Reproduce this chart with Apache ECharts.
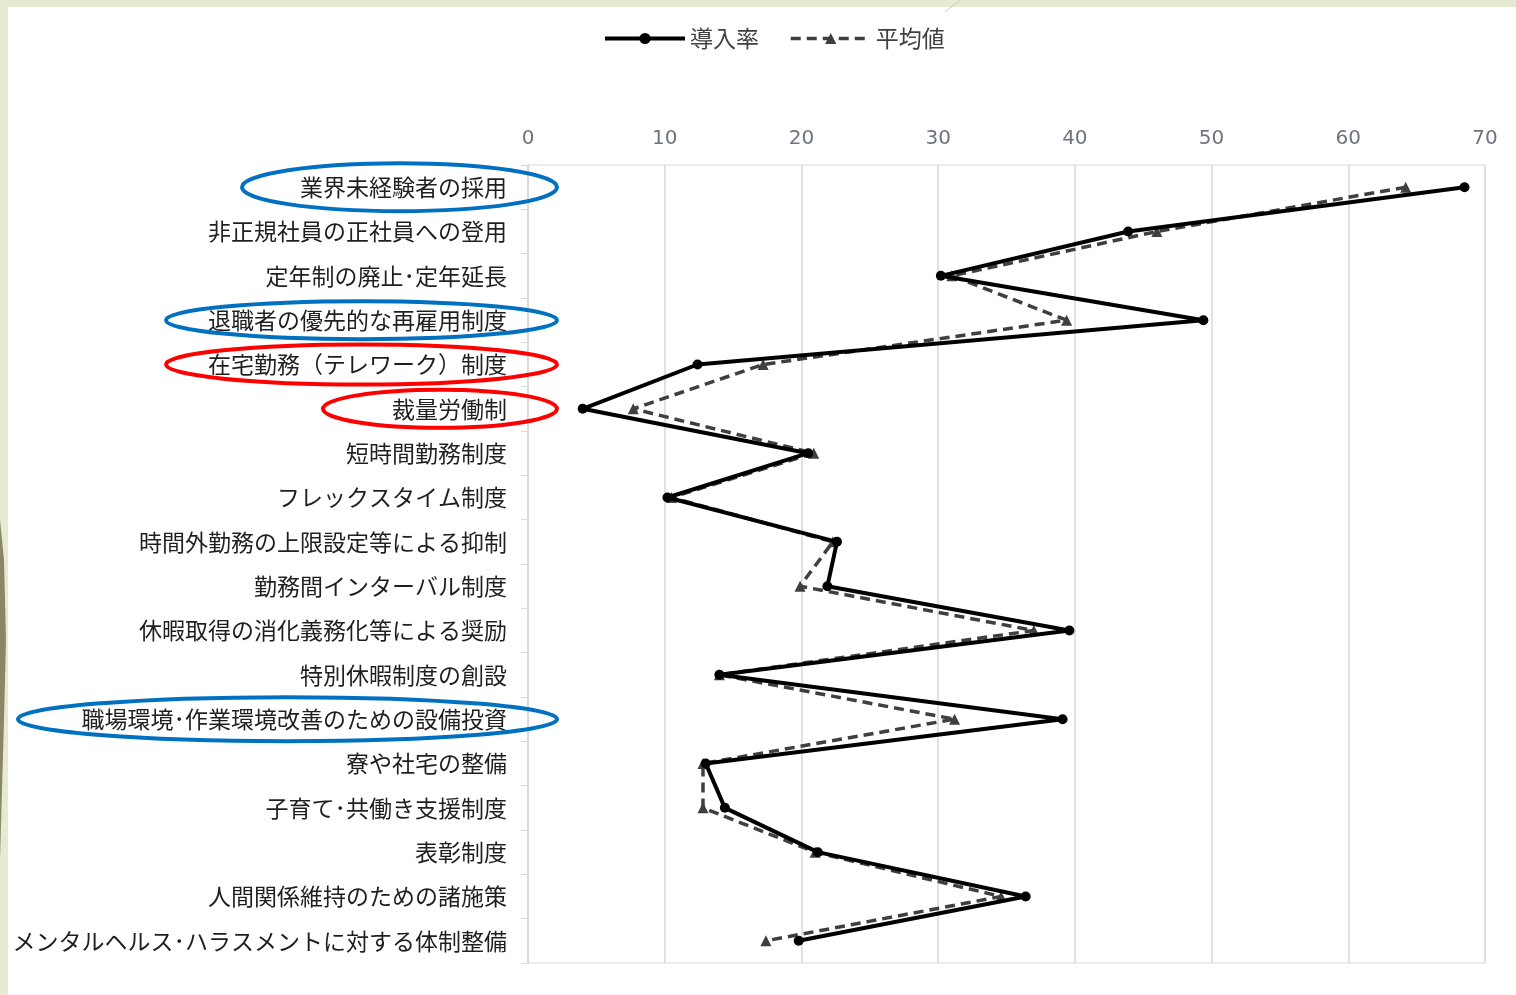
<!DOCTYPE html>
<html>
<head>
<meta charset="utf-8">
<title>導入率と平均値</title>
<script src="https://cdn.jsdelivr.net/npm/echarts@6/dist/echarts.min.js"></script>
<style>
  html, body { margin: 0; padding: 0; background: #e6ead2; }
  #chart { width: 1516px; height: 995px; }
</style>
</head>
<body>
<div id="chart"></div>
<script>
// Measures, top to bottom
const categories = [
  '業界未経験者の採用',
  '非正規社員の正社員への登用',
  '定年制の廃止･定年延長',
  '退職者の優先的な再雇用制度',
  '在宅勤務（テレワーク）制度',
  '裁量労働制',
  '短時間勤務制度',
  'フレックスタイム制度',
  '時間外勤務の上限設定等による抑制',
  '勤務間インターバル制度',
  '休暇取得の消化義務化等による奨励',
  '特別休暇制度の創設',
  '職場環境･作業環境改善のための設備投資',
  '寮や社宅の整備',
  '子育て･共働き支援制度',
  '表彰制度',
  '人間関係維持のための諸施策',
  'メンタルヘルス･ハラスメントに対する体制整備'
];

// 導入率 (%)
const adoptionRate = [68.5, 43.9, 30.2, 49.4, 12.4, 4.0, 20.5, 10.2, 22.6, 21.9, 39.6, 14.0, 39.1, 13.0, 14.4, 21.2, 36.4, 19.8];
// 平均値 (%)
const averageRate = [64.2, 46.0, 31.0, 39.4, 17.2, 7.7, 20.9, 10.5, 22.3, 19.9, 37.0, 14.0, 31.2, 12.8, 12.8, 21.0, 34.6, 17.4];

// Value axis ticks
const axisMin = 0;
const axisMax = 70;
const axisStep = 10;

// Highlighted measures: category, ellipse left/right edge, colour
const highlights = [
  { name: '業界未経験者の採用', left: 242, right: 557, ry: 24, color: '#0070c0' },
  { name: '退職者の優先的な再雇用制度', left: 166, right: 557, ry: 19, color: '#0070c0' },
  { name: '在宅勤務（テレワーク）制度', left: 166, right: 557, ry: 20, color: '#ff0000' },
  { name: '裁量労働制', left: 323, right: 557, ry: 19, color: '#ff0000' },
  { name: '職場環境･作業環境改善のための設備投資', left: 18, right: 557, ry: 22, color: '#0070c0' }
];

const chart = echarts.init(document.getElementById('chart'), null, { renderer: 'canvas' });

const frameGraphics = [
  { type: 'rect', z: -10, silent: true, shape: { x: 8, y: 7, width: 1508, height: 988 }, style: { fill: '#ffffff' } },
  { type: 'line', z: -9, silent: true, shape: { x1: 945, y1: 12, x2: 960, y2: 0 }, style: { stroke: '#c9ccbd', lineWidth: 1 } },
  { type: 'polygon', z: -9, silent: true,
    shape: { points: [[0, 520], [4, 560], [6, 640], [4, 720], [2, 790], [0, 860]] },
    style: { fill: '#8a8666' } }
];

chart.setOption({
  animation: false,
  backgroundColor: 'transparent',
  textStyle: { fontFamily: '"Noto Sans CJK JP", "Noto Sans", sans-serif' },
  legend: {
    top: 22,
    left: 598,
    itemWidth: 80,
    itemHeight: 14,
    itemGap: 30,
    data: [
      { name: '導入率', lineStyle: { width: 4, color: '#000000' } },
      { name: '平均値', lineStyle: { width: 3.5, color: '#3f3f3f', type: [10, 6] } }
    ],
    textStyle: { fontSize: 23, color: '#404040', fontFamily: '"Noto Sans CJK JP", sans-serif' }
  },
  grid: {
    left: 528,
    right: 31,
    top: 165,
    bottom: 32,
    show: true,
    borderColor: '#d9d9d9',
    borderWidth: 1
  },
  xAxis: {
    type: 'value',
    position: 'top',
    min: axisMin,
    max: axisMax,
    interval: axisStep,
    axisLine: { show: false },
    axisTick: { show: false },
    splitLine: { show: true, lineStyle: { color: '#d9d9d9', width: 1.5 } },
    axisLabel: {
      margin: 16,
      fontSize: 20,
      color: '#6d7480',
      fontFamily: '"DejaVu Sans", sans-serif'
    }
  },
  yAxis: {
    type: 'category',
    inverse: true,
    data: categories,
    axisLine: { show: true, lineStyle: { color: '#d9d9d9', width: 1.5 } },
    axisTick: { show: true, length: 7, lineStyle: { color: '#d9d9d9' } },
    splitLine: { show: false },
    axisLabel: {
      margin: 21,
      fontSize: 23,
      color: '#1f1f1f',
      fontFamily: '"Noto Sans CJK JP", sans-serif'
    }
  },
  series: [
    {
      name: '平均値',
      type: 'line',
      data: averageRate,
      symbol: 'triangle',
      symbolSize: 11,
      z: 2,
      lineStyle: { color: '#3f3f3f', width: 3.5, type: [10, 6] },
      itemStyle: { color: '#3f3f3f' }
    },
    {
      name: '導入率',
      type: 'line',
      data: adoptionRate,
      symbol: 'circle',
      symbolSize: 10,
      z: 3,
      lineStyle: { color: '#000000', width: 4 },
      itemStyle: { color: '#000000' }
    }
  ],
  graphic: frameGraphics
});

// Ellipses drawn around highlighted labels, positioned on their category rows
const ellipseGraphics = highlights.map(function (h) {
  const cy = chart.convertToPixel({ yAxisIndex: 0 }, h.name);
  return {
    type: 'ellipse',
    z: 10,
    silent: true,
    shape: { cx: (h.left + h.right) / 2, cy: cy, rx: (h.right - h.left) / 2, ry: h.ry },
    style: { fill: 'none', stroke: h.color, lineWidth: 4 }
  };
});

chart.setOption({ graphic: frameGraphics.concat(ellipseGraphics) });
</script>
</body>
</html>
